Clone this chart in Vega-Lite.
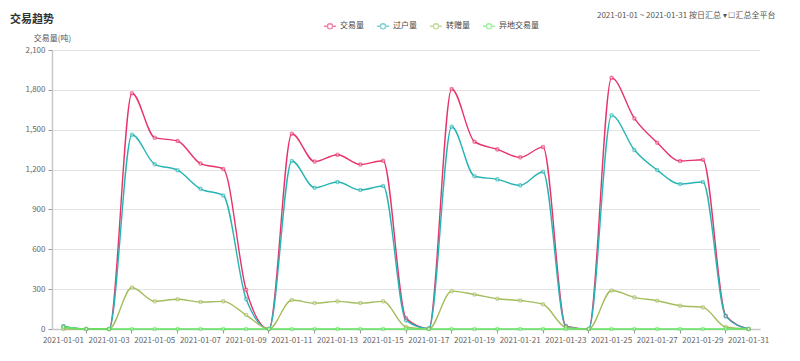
{
  "$schema": "https://vega.github.io/schema/vega-lite/v6.json",
  "width": 708,
  "height": 279,
  "autosize": "none",
  "padding": {"left": 52, "top": 50, "right": 40, "bottom": 32},
  "background": "white",
  "title": {
    "text": "交易趋势",
    "anchor": "start",
    "frame": "group",
    "dx": -42,
    "dy": 18,
    "fontSize": 11,
    "fontWeight": "bold",
    "color": "#333",
    "font": "Noto Sans CJK SC"
  },
  "config": {
    "font": "Noto Sans CJK SC",
    "view": {"stroke": null},
    "axis": {"labelFont": "Noto Sans CJK SC", "titleFont": "Noto Sans CJK SC"}
  },
  "data": {
    "values": [
      {"date": "2021-01-01", "交易量": 18, "过户量": 20, "转赠量": 0, "异地交易量": 15},
      {"date": "2021-01-02", "交易量": 0, "过户量": 0, "转赠量": 0, "异地交易量": 0},
      {"date": "2021-01-03", "交易量": 0, "过户量": 0, "转赠量": 0, "异地交易量": 0},
      {"date": "2021-01-04", "交易量": 1775, "过户量": 1462, "转赠量": 312, "异地交易量": 0},
      {"date": "2021-01-05", "交易量": 1440, "过户量": 1240, "转赠量": 208, "异地交易量": 0},
      {"date": "2021-01-06", "交易量": 1415, "过户量": 1195, "转赠量": 224, "异地交易量": 0},
      {"date": "2021-01-07", "交易量": 1245, "过户量": 1055, "转赠量": 203, "异地交易量": 0},
      {"date": "2021-01-08", "交易量": 1205, "过户量": 1005, "转赠量": 208, "异地交易量": 0},
      {"date": "2021-01-09", "交易量": 295, "过户量": 225, "转赠量": 105, "异地交易量": 0},
      {"date": "2021-01-10", "交易量": 0, "过户量": 0, "转赠量": 0, "异地交易量": 0},
      {"date": "2021-01-11", "交易量": 1470, "过户量": 1265, "转赠量": 218, "异地交易量": 0},
      {"date": "2021-01-12", "交易量": 1260, "过户量": 1063, "转赠量": 195, "异地交易量": 0},
      {"date": "2021-01-13", "交易量": 1312, "过户量": 1106, "转赠量": 208, "异地交易量": 0},
      {"date": "2021-01-14", "交易量": 1238, "过户量": 1046, "转赠量": 195, "异地交易量": 0},
      {"date": "2021-01-15", "交易量": 1266, "过户量": 1076, "转赠量": 208, "异地交易量": 0},
      {"date": "2021-01-16", "交易量": 80, "过户量": 65, "转赠量": 15, "异地交易量": 0},
      {"date": "2021-01-17", "交易量": 3, "过户量": 3, "转赠量": 0, "异地交易量": 0},
      {"date": "2021-01-18", "交易量": 1806, "过户量": 1522, "转赠量": 285, "异地交易量": 0},
      {"date": "2021-01-19", "交易量": 1410, "过户量": 1150, "转赠量": 260, "异地交易量": 0},
      {"date": "2021-01-20", "交易量": 1352, "过户量": 1126, "转赠量": 228, "异地交易量": 0},
      {"date": "2021-01-21", "交易量": 1292, "过户量": 1081, "转赠量": 214, "异地交易量": 0},
      {"date": "2021-01-22", "交易量": 1369, "过户量": 1184, "转赠量": 186, "异地交易量": 0},
      {"date": "2021-01-23", "交易量": 22, "过户量": 18, "转赠量": 12, "异地交易量": 0},
      {"date": "2021-01-24", "交易量": 0, "过户量": 0, "转赠量": 0, "异地交易量": 0},
      {"date": "2021-01-25", "交易量": 1890, "过户量": 1608, "转赠量": 290, "异地交易量": 0},
      {"date": "2021-01-26", "交易量": 1585, "过户量": 1347, "转赠量": 238, "异地交易量": 0},
      {"date": "2021-01-27", "交易量": 1402, "过户量": 1196, "转赠量": 213, "异地交易量": 0},
      {"date": "2021-01-28", "交易量": 1264, "过户量": 1091, "转赠量": 175, "异地交易量": 0},
      {"date": "2021-01-29", "交易量": 1274, "过户量": 1106, "转赠量": 163, "异地交易量": 0},
      {"date": "2021-01-30", "交易量": 100, "过户量": 95, "转赠量": 15, "异地交易量": 0},
      {"date": "2021-01-31", "交易量": 0, "过户量": 0, "转赠量": 0, "异地交易量": 0}
    ]
  },
  "transform": [
    {"fold": ["交易量", "过户量", "转赠量", "异地交易量"], "as": ["series", "value"]}
  ],
  "layer": [
    {
      "mark": {
        "type": "line",
        "interpolate": "monotone",
        "point": {"filled": false, "fill": "white", "size": 10, "strokeWidth": 1, "opacity": 0.6}
      },
      "encoding": {
        "x": {
          "field": "date",
          "type": "ordinal",
          "bandPosition": 0.5,
          "scale": {"type": "band", "paddingInner": 0, "paddingOuter": 0},
          "axis": {
            "title": null,
            "labelAngle": 0,
            "labelOverlap": false,
            "labelExpr": "toNumber(substring(datum.value, 8, 10)) % 2 === 1 ? datum.value : ''",
            "labelFontSize": 8,
            "labelColor": "#666",
            "labelPadding": 3,
            "domainColor": "#c8c8c8",
            "domainWidth": 1.5,
            "tickSize": 4,
            "tickColor": {"condition": {"test": "toNumber(substring(datum.value, 8, 10)) % 2 === 0", "value": "#999"}, "value": "rgba(0,0,0,0)"},
            "grid": false
          }
        },
        "y": {
          "field": "value",
          "type": "quantitative",
          "scale": {"domain": [0, 2100], "nice": false},
          "axis": {
            "values": [0, 300, 600, 900, 1200, 1500, 1800, 2100],
            "format": ",.0f",
            "labelOverlap": false,
            "title": "交易量(吨)",
            "titleAngle": 0,
            "titleAlign": "center",
            "titleBaseline": "alphabetic",
            "titleX": 0,
            "titleY": -10,
            "titleFontSize": 8,
            "titleFontWeight": "normal",
            "titleColor": "#555",
            "labelFontSize": 8,
            "labelColor": "#666",
            "labelPadding": 3,
            "domainColor": "#c8c8c8",
            "domainWidth": 1.5,
            "tickColor": "#999",
            "tickSize": 4,
            "gridColor": "#e3e3e3",
            "gridWidth": 1
          }
        },
        "color": {
          "field": "series",
          "type": "nominal",
          "sort": ["交易量", "过户量", "转赠量", "异地交易量"],
          "scale": {
            "domain": ["交易量", "过户量", "转赠量", "异地交易量"],
            "range": ["#e8336a", "#27b4b4", "#a4bd5c", "#5fe85f"]
          },
          "legend": {
            "title": null,
            "orient": "none",
            "direction": "horizontal",
            "legendX": 271,
            "legendY": -31,
            "symbolType": "M-1,0H-0.42M0.42,0H1M0.42,0A0.42,0.42,0,1,1,-0.42,0A0.42,0.42,0,1,1,0.42,0",
            "symbolSize": 150,
            "symbolStrokeWidth": 1.2,
            "symbolFillColor": "#ffffff",
            "labelFontSize": 8,
            "labelColor": "#444",
            "labelOffset": 3,
            "columnPadding": 10
          }
        },
        "strokeWidth": {
          "field": "series",
          "type": "nominal",
          "scale": {
            "domain": ["交易量", "过户量", "转赠量", "异地交易量"],
            "range": [1.4, 1.4, 1.4, 2.4]
          },
          "legend": null
        }
      }
    },
    {
      "mark": {"type": "rule", "opacity": 0},
      "encoding": {
        "x": {
          "field": "date",
          "type": "ordinal",
          "axis": {
            "orient": "top",
            "labels": false,
            "ticks": false,
            "domain": false,
            "grid": false,
            "title": "2021-01-01  ~  2021-01-31    按日汇总 ▾    ☐汇总全平台",
            "titleAnchor": "end",
            "titleAlign": "right",
            "titleBaseline": "middle",
            "titleX": 723,
            "titleY": -35,
            "titleFontSize": 8,
            "titleFontWeight": "normal",
            "titleColor": "#555"
          }
        }
      }
    }
  ],
  "resolve": {"scale": {"x": "independent"}}
}
